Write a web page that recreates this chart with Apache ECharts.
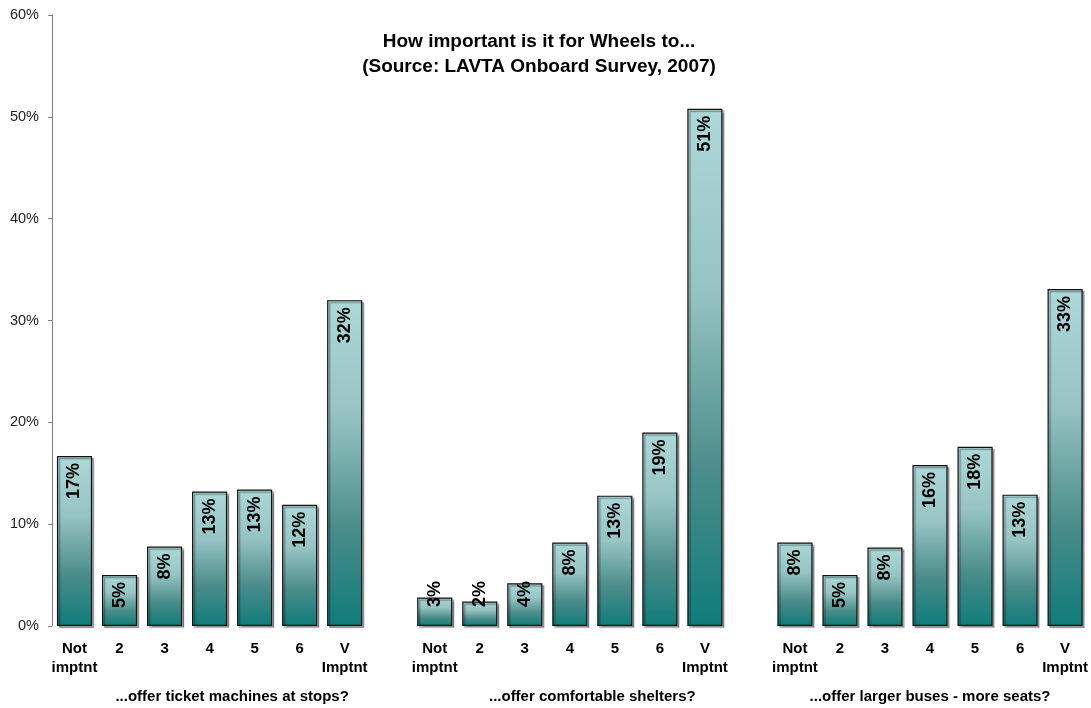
<!DOCTYPE html>
<html>
<head>
<meta charset="utf-8">
<script src="https://cdn.jsdelivr.net/npm/echarts@6/dist/echarts.min.js"></script>
<style>
  html, body { margin: 0; padding: 0; background: #ffffff; }
  #chart { width: 1091px; height: 708px; }
</style>
</head>
<body>
<div id="chart"></div>
<script>
// Rating scale shown under each question group
const scaleLabels = ['Not\nimptnt', '2', '3', '4', '5', '6', 'V\nImptnt'];

// Questions (one bar group each)
const questions = [
  '...offer ticket machines at stops?',
  '...offer comfortable shelters?',
  '...offer larger buses - more seats?'
];

// Share of respondents (%) per rating, one array per question
const ticketMachines = [16.7, 5.0, 7.8, 13.2, 13.4, 11.9, 32.0];
const shelters       = [2.8, 2.4, 4.2, 8.2, 12.8, 19.0, 50.8];
const largerBuses    = [8.2, 5.0, 7.7, 15.8, 17.6, 12.9, 33.1];

// Y axis ticks
const yTicks = [0, 10, 20, 30, 40, 50, 60];

const groups = [ticketMachines, shelters, largerBuses];

// Flatten the three groups onto one category axis with an empty slot between groups
const categories = [];
const values = [];
groups.forEach((g, gi) => {
  scaleLabels.forEach((lab, i) => {
    categories.push(lab);
    values.push(g[i]);
  });
  if (gi < groups.length - 1) {
    categories.push('');
    values.push('-');
  }
});

// Group caption positions on the helper value axis (centre of each group's span)
const groupSpan = scaleLabels.length + 1;
const groupCentres = questions.map((q, i) => {
  const start = i * groupSpan;
  const end = Math.min(start + groupSpan, categories.length);
  return (start + end) / 2;
});

const font = 'Liberation Sans, Arial, Helvetica, sans-serif';

const barGradient = new echarts.graphic.LinearGradient(0, 0, 0, 1, [
  { offset: 0, color: '#acd8d8' },
  { offset: 0.35, color: '#96c4c3' },
  { offset: 0.7, color: '#4a8d8a' },
  { offset: 1, color: '#0f7c7a' }
]);

const seriesData = values.map(v => {
  if (v === '-') return v;
  // short bars carry their label near the base
  if (v < 4.5) {
    return {
      value: v,
      label: { position: 'insideBottom', align: 'left', distance: 19 }
    };
  }
  return v;
});

const chart = echarts.init(document.getElementById('chart'), null, { renderer: 'canvas' });

chart.setOption({
  animation: false,
  backgroundColor: '#ffffff',
  title: {
    text: 'How important is it for Wheels to...\n(Source: LAVTA Onboard Survey, 2007)',
    left: 534,
    top: 24,
    textAlign: 'center',
    textStyle: {
      fontFamily: font,
      fontSize: 19,
      fontWeight: 'bold',
      color: '#000000',
      lineHeight: 25
    }
  },
  grid: {
    left: 52,
    right: 3,
    top: 15,
    bottom: 82,
    containLabel: false
  },
  xAxis: [
    {
      type: 'category',
      data: categories,
      axisLine: { show: false },
      axisTick: { show: false },
      axisLabel: {
        interval: 0,
        margin: 13,
        fontFamily: font,
        fontSize: 15,
        fontWeight: 'bold',
        lineHeight: 19,
        color: '#000000'
      }
    },
    {
      type: 'value',
      position: 'bottom',
      min: 0,
      max: categories.length,
      axisLine: { show: false },
      axisTick: { show: false },
      splitLine: { show: false },
      axisLabel: {
        customValues: groupCentres,
        margin: 63,
        fontFamily: font,
        fontSize: 15,
        fontWeight: 'bold',
        color: '#000000',
        formatter: (val) => {
          const idx = groupCentres.findIndex(c => Math.abs(c - val) < 1e-6);
          return idx >= 0 ? questions[idx] : '';
        }
      }
    }
  ],
  yAxis: {
    type: 'value',
    min: yTicks[0],
    max: yTicks[yTicks.length - 1],
    interval: 10,
    axisLine: { show: true, lineStyle: { color: '#808080', width: 1 } },
    axisTick: { show: true, length: 4, lineStyle: { color: '#808080' } },
    splitLine: { show: false },
    axisLabel: {
      margin: 13,
      fontFamily: font,
      fontSize: 14.5,
      color: '#222222',
      formatter: '{value}%'
    }
  },
  series: [
    {
      type: 'bar',
      xAxisIndex: 0,
      data: seriesData,
      barCategoryGap: '22%',
      itemStyle: {
        color: barGradient,
        borderColor: '#111111',
        borderWidth: 1.2,
        shadowColor: 'rgba(0,0,0,0.35)',
        shadowOffsetX: 2,
        shadowOffsetY: 2,
        shadowBlur: 1
      },
      label: {
        show: true,
        position: 'insideTop',
        rotate: 90,
        align: 'right',
        verticalAlign: 'middle',
        distance: 7,
        fontFamily: font,
        fontSize: 18,
        fontWeight: 'bold',
        color: '#000000',
        formatter: (p) => Math.round(p.value) + '%'
      }
    }
  ]
});
</script>
</body>
</html>
